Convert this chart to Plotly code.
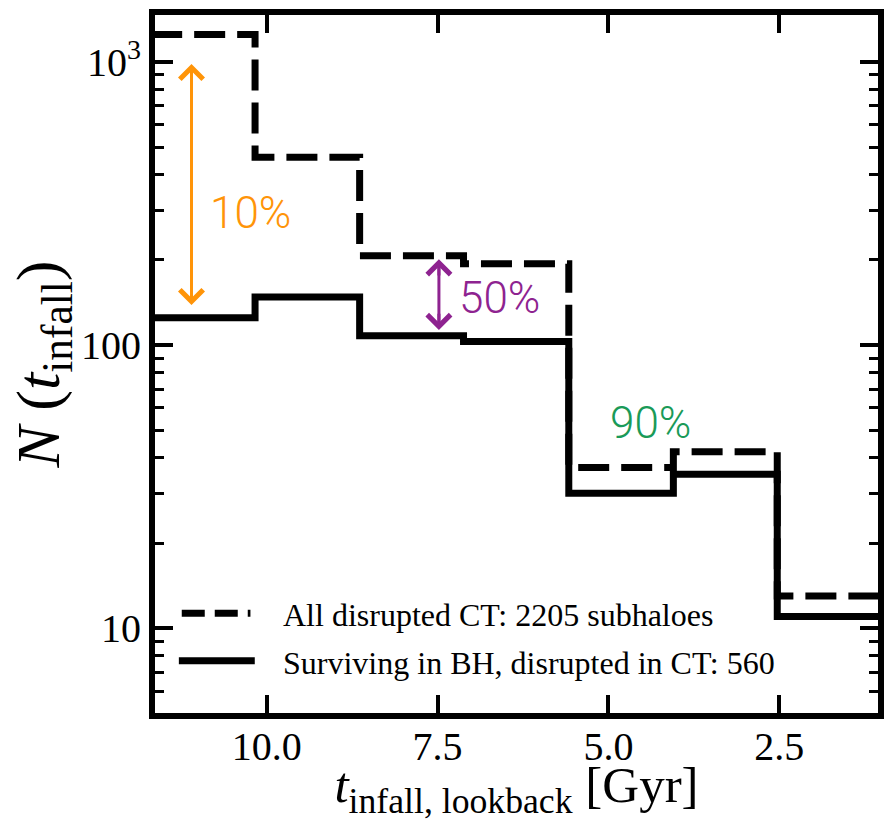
import math
import plotly.graph_objects as go

# Histogram of infall lookback times (7 equal bins, oldest first)
bin_edges = [11.69, 10.17, 8.64, 7.12, 5.58, 4.05, 2.53, 1.0]
n_all_disrupted = [1251, 461, 207, 194, 37, 42, 13]      # all disrupted in CT (2205)
n_surviving_bh = [125, 148, 108, 103, 30, 35, 11]        # surviving in BH, disrupted in CT (560)

legend_labels = ["All disrupted CT: 2205 subhaloes",
                 "Surviving in BH, disrupted in CT: 560"]

# Fraction arrows: x position, lower tip, upper tip
arrow_x = [11.10, 7.48]
arrow_lo = [138.6, 113.2]
arrow_hi = [984, 201]
pct_labels = ["10%", "50%", "90%"]
pct_x = [10.24, 6.60, 4.38]
pct_y = [293, 146.7, 52.9]
pct_colors = ["#ff9408", "#8e2390", "#1a9a58"]

x_ticks = [10.0, 7.5, 5.0, 2.5]
x_ticktext = ["10.0", "7.5", "5.0", "2.5"]
y_ticks = [10, 100, 1000]
y_ticktext = ["10", "100", "10<sup>3</sup>"]
y_minor = [6, 7, 8, 9, 20, 30, 40, 50, 60, 70, 80, 90,
           200, 300, 400, 500, 600, 700, 800, 900]

SERIF = "Liberation Serif, Times New Roman, serif"
SANS = "Roboto, Helvetica, Arial, sans-serif"

fig = go.Figure()

def step_xy(values):
    return bin_edges, list(values) + [values[-1]]

xs, ys = step_xy(n_all_disrupted)
fig.add_trace(go.Scatter(x=xs, y=ys, mode="lines", line_shape="hv",
                         line=dict(color="black", width=7, dash="31px,12px"),
                         name=legend_labels[0], showlegend=False))
xs, ys = step_xy(n_surviving_bh)
fig.add_trace(go.Scatter(x=xs, y=ys, mode="lines", line_shape="hv",
                         line=dict(color="black", width=7),
                         name=legend_labels[1], showlegend=False))

annotations = []
shapes = []
# double-headed arrows: shaft as a shape, heads as short annotation arrows
for i, xa in enumerate(arrow_x):
    lo, hi = math.log10(arrow_lo[i]), math.log10(arrow_hi[i])
    shapes.append(dict(type="line", xref="x", yref="y", x0=xa, x1=xa,
                       y0=arrow_lo[i] * 1.03, y1=arrow_hi[i] / 1.03,
                       line=dict(color=pct_colors[i], width=3)))
    span = 0.25 * (hi - lo)
    for tip, tail in ((lo, lo + span), (hi, hi - span)):
        annotations.append(dict(
            x=xa, y=tip, ax=xa, ay=tail, xref="x", yref="y", axref="x", ayref="y",
            text="", showarrow=True, arrowhead=4, arrowsize=1.5, arrowwidth=3,
            arrowcolor=pct_colors[i], standoff=0, font=dict(size=1)))

for lab, px, py, col in zip(pct_labels, pct_x, pct_y, pct_colors):
    annotations.append(dict(x=px, y=math.log10(py), xref="x", yref="y",
                            text=lab, showarrow=False,
                            font=dict(family=SANS, size=44, color=col, weight=300),
                            xanchor="center", yanchor="middle"))

# legend drawn in axis-domain coordinates
leg_rows_y = [0.140, 0.072]
annotations += [dict(x=0.174, y=yy, xref="x domain", yref="y domain", text=t,
                     showarrow=False, xanchor="left", yanchor="middle",
                     font=dict(family=SERIF, size=32, color="black"))
                for t, yy in zip(legend_labels, leg_rows_y)]

shapes += [
    dict(type="line", xref="x domain", yref="y domain", x0=0.037, x1=0.132,
         y0=leg_rows_y[0] + 0.003, y1=leg_rows_y[0] + 0.003,
         line=dict(color="black", width=7, dash="23px,10px")),
    dict(type="line", xref="x domain", yref="y domain", x0=0.033, x1=0.138,
         y0=leg_rows_y[1] + 0.003, y1=leg_rows_y[1] + 0.003,
         line=dict(color="black", width=7)),
]

fig.update_layout(
    width=892, height=821,
    margin=dict(l=155, r=14, t=15, b=108),
    paper_bgcolor="white", plot_bgcolor="white",
    showlegend=False,
    annotations=annotations, shapes=shapes,
    xaxis=dict(
        range=[11.634, 1.056], showgrid=False, zeroline=False, automargin=False,
        showline=True, linewidth=6, linecolor="black", mirror="allticks",
        ticks="inside", ticklen=18, tickwidth=4, tickcolor="black",
        tickvals=x_ticks, ticktext=x_ticktext, ticklabelstandoff=-7,
        tickfont=dict(family=SERIF, size=40, color="black"),
        title=dict(text="<i>t</i><sub>infall, lookback</sub> [Gyr]",
                   font=dict(family=SERIF, size=51, color="black"), standoff=10),
    ),
    yaxis=dict(
        type="log", range=[0.701, 3.166], showgrid=False, zeroline=False,
        automargin=False,
        showline=True, linewidth=6, linecolor="black", mirror="allticks",
        ticks="inside", ticklen=18, tickwidth=4, tickcolor="black",
        tickvals=y_ticks, ticktext=y_ticktext,
        tickfont=dict(family=SERIF, size=40, color="black"),
        minor=dict(tickvals=y_minor, ticks="inside", ticklen=9, tickwidth=3,
                   tickcolor="black"),
        title=dict(text="<i>N</i> (<i>t</i><sub>infall</sub>)",
                   font=dict(family=SERIF, size=62, color="black"), standoff=2),
    ),
)

fig.write_html("out.html")
